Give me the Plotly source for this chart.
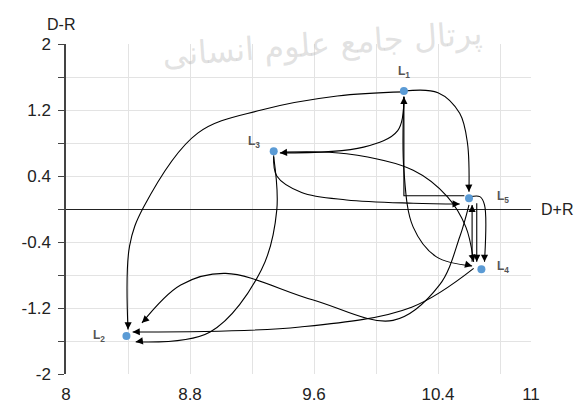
import math
import plotly.graph_objects as go

# Nodes (D+R, D-R)
node_names = ["L1", "L2", "L3", "L4", "L5"]
node_x = [10.18, 8.39, 9.34, 10.68, 10.60]
node_y = [1.43, -1.54, 0.70, -0.73, 0.13]

x_ticks = [8, 8.8, 9.6, 10.4, 11]
y_ticks = [-2, -1.2, -0.4, 0.4, 1.2, 2]

# connector routes between nodes (waypoints in axis units), last point gets the arrowhead
routes = [
    # L1 -> L2 big arc
    ([(10.18, 1.42), (9.75, 1.37), (9.26, 1.20), (8.85, 0.92), (8.50, 0.02), (8.41, -0.45), (8.40, -1.46)], "spline"),
    # L1 -> L5
    ([(10.18, 1.43), (10.40, 1.41), (10.54, 1.16), (10.59, 0.80), (10.60, 0.21)], "spline"),
    # L5 -> L1 elbow
    ([(10.57, 0.16), (10.18, 0.16), (10.18, 1.36)], "linear"),
    # L1 -> L3
    ([(10.18, 1.36), (10.14, 0.95), (9.92, 0.75), (9.38, 0.68)], "spline"),
    # L3 -> L5
    ([(9.34, 0.65), (9.36, 0.40), (9.52, 0.20), (9.81, 0.11), (10.24, 0.07), (10.54, 0.06)], "spline"),
    # L3 -> L4
    ([(9.40, 0.69), (9.81, 0.67), (10.24, 0.47), (10.46, 0.15), (10.58, -0.22), (10.63, -0.64)], "spline"),
    # L3 -> L2
    ([(9.34, 0.63), (9.36, -0.01), (9.26, -0.74), (8.93, -1.49), (8.45, -1.61)], "spline"),
    # L4 -> L2
    ([(10.63, -0.72), (10.23, -1.19), (9.51, -1.43), (8.43, -1.49)], "spline"),
    # L5 -> L2 (S-curve)
    ([(10.60, 0.05), (10.54, -0.34), (10.41, -0.92), (10.11, -1.35), (9.59, -1.10), (9.03, -0.78), (8.74, -0.92), (8.49, -1.38)], "spline"),
    # L1 -> L4
    ([(10.18, 1.36), (10.18, 0.47), (10.24, -0.22), (10.39, -0.58), (10.62, -0.69)], "spline"),
    # L4 -> L5
    ([(10.62, -0.64), (10.62, 0.05)], "linear"),
    # L5 -> L4
    ([(10.65, 0.07), (10.65, -0.64)], "linear"),
    # L5 -> L4 (outer)
    ([(10.61, 0.15), (10.67, 0.15), (10.70, 0.05), (10.70, -0.64)], "spline"),
]

PX_X = 155.0   # pixels per x unit
PX_Y = 82.5    # pixels per y unit

fig = go.Figure()

annotations = []
for pts, shape in routes:
    xs = [p[0] for p in pts]
    ys = [p[1] for p in pts]
    fig.add_trace(go.Scatter(
        x=xs, y=ys, mode="lines",
        line=dict(color="black", width=1.1, shape=shape, smoothing=1.0),
        hoverinfo="skip", showlegend=False,
    ))
    dx = (xs[-1] - xs[-2]) * PX_X
    dy = -(ys[-1] - ys[-2]) * PX_Y
    n = math.hypot(dx, dy)
    annotations.append(dict(
        x=xs[-1], y=ys[-1], xref="x", yref="y", text="",
        showarrow=True, arrowhead=2, arrowsize=1.3, arrowwidth=1.1,
        arrowcolor="black", ax=-dx / n * 8, ay=-dy / n * 8, standoff=0,
    ))

fig.add_trace(go.Scatter(
    x=node_x, y=node_y, mode="markers",
    marker=dict(color="#5B9BD5", size=8),
    hoverinfo="text", text=node_names, showlegend=False,
))

# node labels
label_offsets = {"L1": (0, -19), "L2": (-27, 0), "L3": (-20, -9), "L4": (22, -2), "L5": (34, -1)}
for name, x, y in zip(node_names, node_x, node_y):
    ox, oy = label_offsets[name]
    annotations.append(dict(
        x=x, y=y, xref="x", yref="y", text=f"<b>L<sub>{name[1]}</sub></b>",
        showarrow=False, xshift=ox, yshift=-oy,
        font=dict(family="Liberation Sans, Arial", size=12, color="#555555"),
    ))

# axis titles
annotations.append(dict(x=-0.045, y=1.09, xref="paper", yref="paper", text="D-R", showarrow=False,
                        font=dict(size=16, color="#222222")))
annotations.append(dict(x=1, y=0.5, xref="paper", yref="paper", xanchor="left", xshift=8,
                        text="D+R", showarrow=False, font=dict(size=16, color="#222222")))

# watermark
annotations.append(dict(x=0.55, y=1.0, xref="paper", yref="paper", xanchor="center", yanchor="middle",
                        text="پرتال جامع علوم انسانی", showarrow=False, textangle=-4,
                        font=dict(family="DejaVu Sans", size=32, color="rgba(190,190,190,0.45)")))

# page body has an 8px margin, so shift the plot area up-left by 8px
fig.update_layout(
    width=585, height=405,
    margin=dict(l=58, r=62, t=36, b=39),
    paper_bgcolor="white", plot_bgcolor="white",
    font=dict(family="Liberation Sans, Arial", size=17, color="#222222"),
    annotations=annotations,
    xaxis=dict(
        range=[8, 11], tickvals=x_ticks, ticktext=[str(v) for v in x_ticks],
        showgrid=True, gridcolor="#E3E3E3", gridwidth=1,
        minor=dict(tick0=8, dtick=0.4, showgrid=True, gridcolor="#E3E3E3"),
        zeroline=False, showline=False, ticks="", ticklabelstandoff=8,
        automargin=False,
    ),
    yaxis=dict(
        range=[-2, 2], tickvals=y_ticks, ticktext=[str(v) for v in y_ticks],
        showgrid=True, gridcolor="#E3E3E3", gridwidth=1,
        minor=dict(tick0=-2, dtick=0.4, showgrid=True, gridcolor="#E3E3E3",
                   ticks="outside", ticklen=6, tickcolor="#444444"),
        ticks="outside", ticklen=6, tickcolor="#444444",
        zeroline=True, zerolinecolor="#222222", zerolinewidth=1.3,
        showline=True, linecolor="#444444", linewidth=1.5,
        ticklabelstandoff=4, automargin=False,
    ),
)

fig.write_html("out.html")
